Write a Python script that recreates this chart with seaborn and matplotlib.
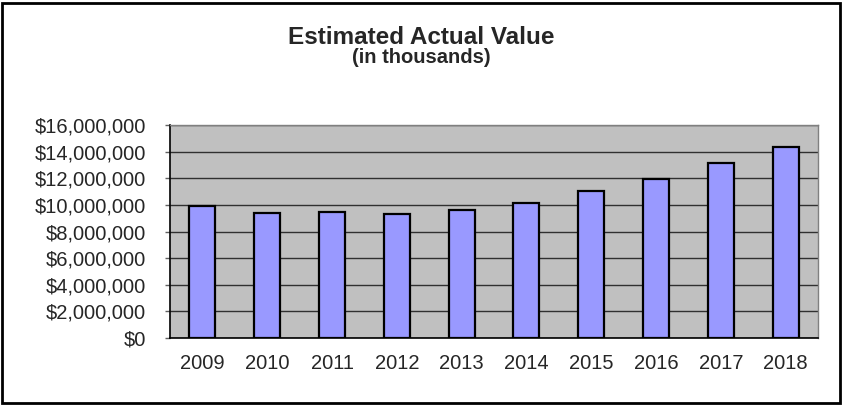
import matplotlib
matplotlib.use('Agg')
import matplotlib.pyplot as plt
import matplotlib.ticker as mticker
from matplotlib.patches import Rectangle
import seaborn as sns
import pandas as pd

years = ['2009', '2010', '2011', '2012', '2013', '2014', '2015', '2016', '2017', '2018']
values = [9940000, 9390000, 9460000, 9310000, 9590000, 10160000, 11020000, 11970000, 13150000, 14350000]
title = 'Estimated Actual Value'
subtitle = '(in thousands)'

sns.set_style('white')
plt.rcParams['font.family'] = ['Liberation Sans', 'DejaVu Sans']

df = pd.DataFrame({'Year': years, 'Value': values})

fig = plt.figure(figsize=(8.42, 4.05), dpi=100)
ax = fig.add_axes([170 / 842, 1 - 338 / 405, 648 / 842, 213 / 405])

sns.barplot(data=df, x='Year', y='Value', color='#9999FF', edgecolor='black',
            linewidth=1.6, width=0.4, saturation=1, ax=ax, zorder=3)

ax.set_facecolor('#C0C0C0')
ax.set_ylim(0, 16000000)
ax.set_xlim(-0.5, 9.5)
ax.yaxis.set_major_locator(mticker.MultipleLocator(2000000))
ax.yaxis.set_major_formatter(mticker.FuncFormatter(lambda v, p: f'${v:,.0f}'))
ax.grid(axis='y', color='#303030', linewidth=1, zorder=1)
ax.set_axisbelow(True)
ax.set_xlabel('')
ax.set_ylabel('')

# ticks between categories, Excel style
ax.set_xticks([i + 0.5 for i in range(-1, 10)], minor=True)
ax.tick_params(axis='x', which='major', length=0, pad=11.5, labelsize=14.5)
ax.tick_params(axis='x', which='minor', length=4.5, width=1, color='#808080', direction='out')
ax.tick_params(axis='y', length=3.6, width=1, color='#606060', direction='out', pad=13.5, labelsize=14.5, left=True)

for side in ['left', 'bottom']:
    ax.spines[side].set_color('black')
    ax.spines[side].set_linewidth(1.2)
for side in ['top', 'right']:
    ax.spines[side].set_color('#808080')
    ax.spines[side].set_linewidth(1)

fig.text(0.5, 1 - 44 / 405, title, ha='center', va='baseline', fontsize=17.5, fontweight='bold')
fig.text(0.5, 1 - 63 / 405, subtitle, ha='center', va='baseline', fontsize=14.5, fontweight='bold')

fig.patches.append(Rectangle((2 / 842, 2 / 405), 838 / 842, 400 / 405, transform=fig.transFigure,
                             fill=False, edgecolor='black', linewidth=2))

fig.savefig('out.png', dpi=100)
